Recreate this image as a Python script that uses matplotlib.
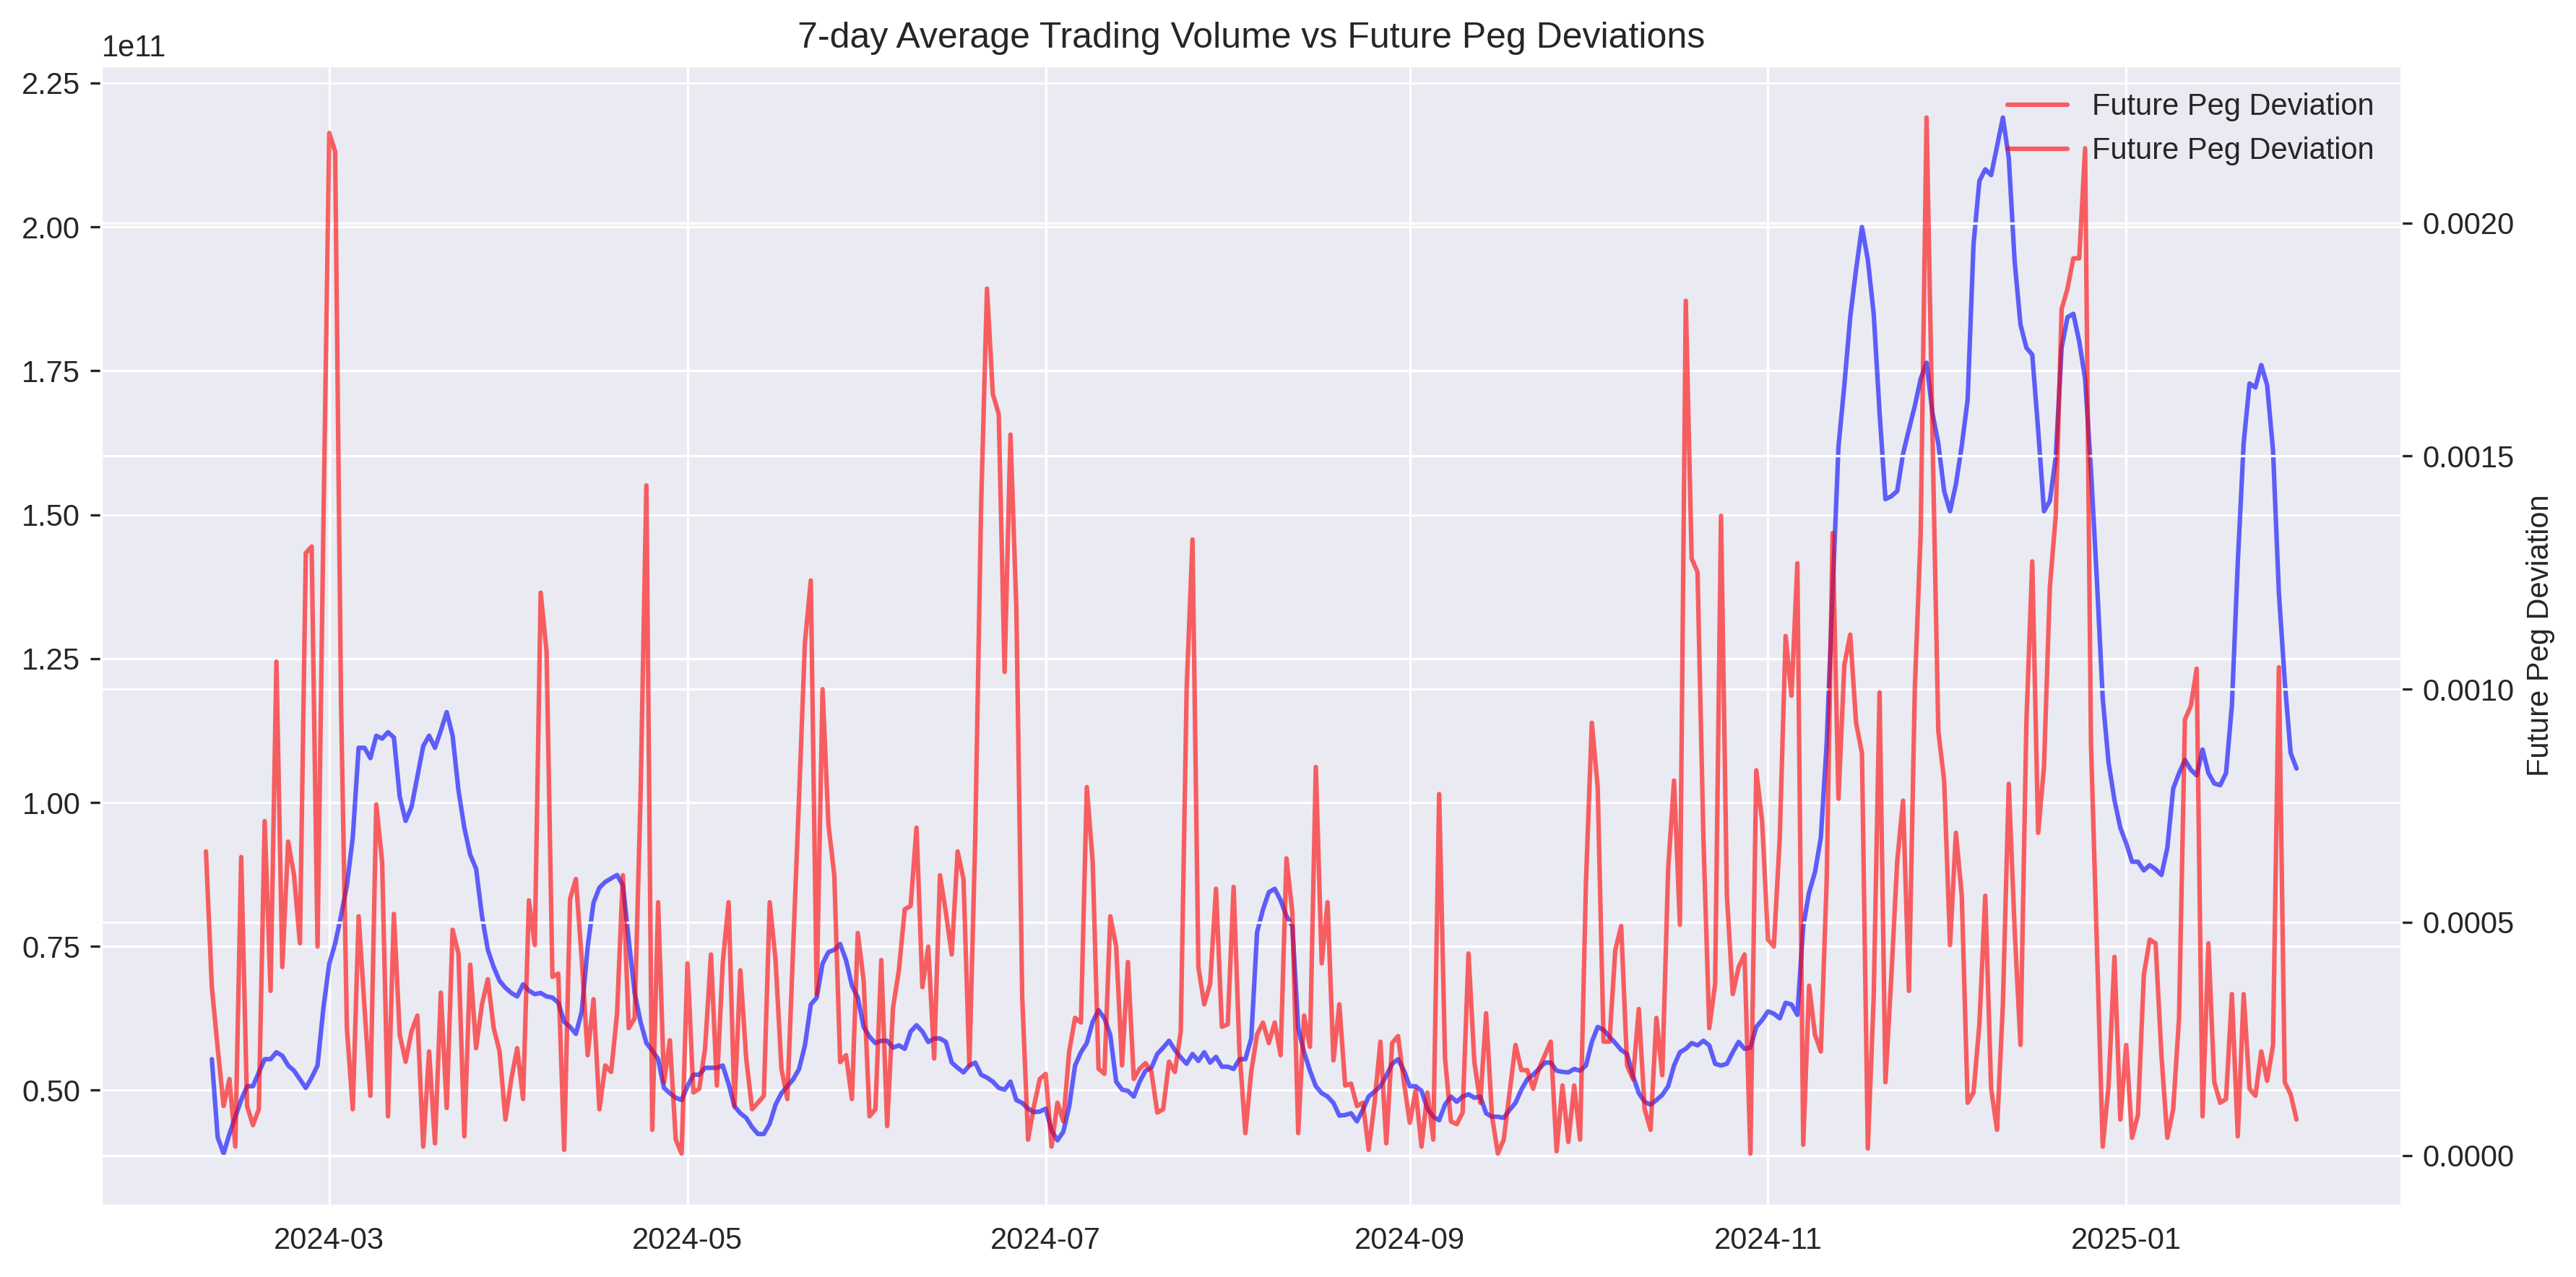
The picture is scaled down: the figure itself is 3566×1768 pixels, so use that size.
import numpy as np
import pandas as pd
import matplotlib
matplotlib.use("Agg")
import matplotlib.pyplot as plt
import seaborn as sns

# daily dates, 2024-02-09 .. 2025-01-30
dates = pd.date_range("2024-02-09", "2025-01-30", freq="D")

# 7-day average trading volume, in billions (first day has no average yet)
vol_7d_bn = [
    np.nan, 55.4, 41.8, 39.0, 42.4, 45.4, 48.3, 50.7, 50.7, 53.1,
    55.4, 55.4, 56.6, 56.0, 54.3, 53.4, 51.9, 50.4, 52.2, 54.3,
    64.3, 72.0, 75.5, 80.3, 85.6, 93.9, 109.5, 109.5, 107.7, 111.6,
    111.1, 112.2, 111.3, 101.0, 96.8, 99.2, 104.5, 109.8, 111.6, 109.5,
    112.5, 115.7, 111.6, 102.1, 95.6, 90.9, 88.5, 80.3, 74.4, 71.4,
    69.0, 67.8, 66.9, 66.3, 68.4, 67.3, 66.7, 66.9, 66.3, 66.1,
    65.2, 61.9, 61.0, 59.8, 63.7, 74.9, 82.6, 85.2, 86.2, 86.8,
    87.4, 85.6, 76.1, 66.9, 61.9, 58.2, 56.9, 55.4, 50.4, 49.5,
    48.7, 48.3, 50.7, 52.7, 52.7, 53.9, 53.9, 53.9, 54.3, 51.1,
    47.2, 46.0, 45.2, 43.6, 42.4, 42.4, 44.2, 47.5, 49.5, 50.7,
    51.9, 53.7, 57.8, 64.9, 66.1, 72.0, 74.0, 74.4, 75.4, 72.6,
    68.2, 66.1, 61.0, 59.3, 58.2, 58.6, 58.6, 57.4, 57.8, 57.2,
    60.2, 61.3, 60.2, 58.4, 59.0, 59.0, 58.4, 54.8, 53.9, 53.1,
    54.3, 54.8, 52.7, 52.2, 51.5, 50.4, 50.1, 51.5, 48.3, 47.8,
    46.8, 46.2, 46.3, 46.8, 43.0, 41.3, 42.8, 47.2, 54.3, 56.6,
    58.2, 61.9, 63.9, 62.5, 59.6, 51.5, 50.1, 49.9, 48.9, 51.5,
    53.4, 53.9, 56.3, 57.4, 58.6, 57.0, 55.7, 54.6, 56.3, 55.1,
    56.6, 54.8, 55.8, 54.1, 54.1, 53.7, 55.4, 55.4, 59.0, 77.5,
    81.4, 84.4, 85.0, 83.0, 80.3, 78.5, 60.8, 56.6, 53.4, 50.7,
    49.5, 48.9, 47.8, 45.6, 45.7, 46.0, 44.6, 46.6, 48.9, 49.8,
    50.7, 52.5, 54.6, 55.4, 53.4, 50.7, 50.7, 49.9, 46.8, 45.4,
    44.8, 47.5, 48.9, 48.0, 48.9, 49.3, 48.7, 48.9, 46.0, 45.4,
    45.4, 45.2, 46.6, 47.8, 50.1, 51.9, 52.7, 53.7, 54.8, 54.8,
    53.4, 53.2, 53.1, 53.7, 53.4, 54.3, 58.4, 61.0, 60.5, 59.3,
    58.2, 57.0, 56.3, 52.5, 49.5, 48.0, 47.5, 48.3, 49.2, 50.7,
    54.3, 56.6, 57.2, 58.2, 57.8, 58.6, 57.8, 54.6, 54.3, 54.6,
    56.6, 58.4, 57.2, 57.4, 61.0, 62.2, 63.7, 63.3, 62.5, 65.2,
    64.9, 63.1, 78.5, 84.4, 87.9, 93.9, 110.4, 136.4, 161.8, 172.5,
    184.3, 192.6, 200.0, 194.3, 184.9, 167.7, 152.7, 153.2, 154.1, 160.6,
    164.8, 168.9, 173.6, 176.4, 167.7, 162.4, 154.1, 150.6, 155.3, 162.0,
    170.0, 197.0, 208.0, 210.0, 209.0, 214.0, 219.0, 212.0, 194.0, 183.0,
    179.0, 177.8, 164.8, 150.6, 152.4, 160.0, 179.0, 184.3, 184.9, 180.1,
    173.6, 157.7, 138.8, 118.1, 106.9, 100.4, 95.6, 92.9, 89.7, 89.7,
    88.2, 89.1, 88.4, 87.4, 92.1, 102.4, 105.1, 107.4, 105.7, 104.7,
    109.2, 105.1, 103.3, 103.0, 105.1, 116.9, 141.7, 162.4, 172.8, 172.1,
    176.0, 172.5, 161.2, 136.4, 121.0, 108.6, 105.9,
]

# future peg deviation, in units of 1e-4
peg_dev_e4 = [
    6.52, 3.61, 2.30, 1.06, 1.64, 0.19, 6.40, 1.06, 0.65, 0.99,
    7.17, 3.53, 10.59, 4.04, 6.73, 6.01, 4.55, 12.92, 13.06, 4.48,
    13.50, 21.93, 21.53, 9.72, 2.73, 0.99, 5.13, 3.17, 1.28, 7.53,
    6.30, 0.84, 5.18, 2.59, 2.01, 2.66, 3.00, 0.19, 2.23, 0.26,
    3.49, 1.02, 4.84, 4.33, 0.41, 4.09, 2.30, 3.24, 3.78, 2.73,
    2.23, 0.77, 1.64, 2.30, 1.21, 5.47, 4.51, 12.07, 10.81, 3.83,
    3.90, 0.12, 5.50, 5.93, 4.19, 2.15, 3.35, 0.99, 1.93, 1.79,
    3.03, 6.01, 2.73, 2.94, 7.68, 14.37, 0.55, 5.43, 1.57, 2.47,
    0.34, 0.04, 4.12, 1.35, 1.43, 2.30, 4.31, 1.50, 4.12, 5.43,
    1.06, 3.97, 2.08, 0.99, 1.13, 1.28, 5.43, 4.19, 1.86, 1.21,
    4.48, 7.68, 11.00, 12.33, 3.46, 10.00, 7.10, 6.01, 2.00, 2.15,
    1.21, 4.77, 3.75, 0.84, 0.99, 4.19, 0.63, 3.17, 3.97, 5.28,
    5.35, 7.03, 3.61, 4.48, 2.08, 6.01, 5.21, 4.31, 6.52, 5.93,
    1.93, 6.81, 13.93, 18.59, 16.33, 15.90, 10.37, 15.46, 11.75, 3.39,
    0.34, 1.06, 1.64, 1.75, 0.19, 1.13, 0.73, 2.23, 2.95, 2.85,
    7.90, 6.30, 1.86, 1.75, 5.13, 4.48, 1.93, 4.15, 1.64, 1.86,
    1.98, 1.79, 0.92, 0.99, 2.01, 1.79, 2.66, 10.00, 13.21, 4.04,
    3.24, 3.68, 5.72, 2.76, 2.81, 5.76, 2.23, 0.48, 1.79, 2.60,
    2.85, 2.41, 2.85, 2.15, 6.37, 5.21, 0.48, 3.00, 2.33, 8.33,
    4.12, 5.43, 2.04, 3.24, 1.50, 1.54, 1.06, 1.13, 0.12, 1.13,
    2.44, 0.26, 2.41, 2.56, 1.57, 0.70, 1.40, 0.19, 1.35, 0.34,
    7.75, 2.08, 0.73, 0.67, 0.92, 4.33, 2.00, 1.13, 3.05, 0.84,
    0.04, 0.34, 1.35, 2.37, 1.83, 1.83, 1.43, 1.86, 2.15, 2.44,
    0.09, 1.50, 0.29, 1.50, 0.34, 5.86, 9.28, 7.90, 2.44, 2.44,
    4.41, 4.92, 1.93, 1.64, 3.14, 0.99, 0.55, 2.95, 1.72, 6.15,
    8.04, 4.95, 18.33, 12.80, 12.51, 6.81, 2.73, 3.68, 13.72, 5.57,
    3.46, 4.04, 4.31, 0.04, 8.26, 7.17, 4.63, 4.48, 6.81, 11.14,
    9.86, 12.70, 0.23, 3.64, 2.59, 2.23, 5.93, 13.35, 7.65, 10.52,
    11.17, 9.28, 8.63, 0.15, 3.39, 9.93, 1.57, 3.83, 6.30, 7.61,
    3.53, 10.00, 13.35, 22.26, 15.53, 9.11, 8.04, 4.51, 6.92, 5.57,
    1.13, 1.35, 2.81, 5.57, 1.43, 0.55, 3.24, 7.97, 4.84, 2.37,
    9.28, 12.74, 6.92, 8.33, 12.19, 13.72, 18.15, 18.59, 19.24, 19.24,
    21.60, 8.84, 4.55, 0.19, 1.50, 4.26, 0.77, 2.37, 0.38, 0.87,
    3.87, 4.63, 4.55, 2.15, 0.38, 0.99, 2.95, 9.35, 9.64, 10.44,
    0.84, 4.55, 1.57, 1.13, 1.21, 3.46, 0.41, 3.46, 1.43, 1.28,
    2.23, 1.60, 2.37, 10.47, 1.57, 1.31, 0.77,
]

volume = np.array(vol_7d_bn) * 1e9
peg_dev = np.array(peg_dev_e4) * 1e-4

sns.set_style("darkgrid")
plt.rcParams["font.family"] = ["Liberation Sans", "DejaVu Sans"]

fig, ax1 = plt.subplots(figsize=(12, 6))
ax2 = ax1.twinx()

ax1.plot(dates, volume, color="blue", alpha=0.6, linewidth=1.5, label="7-day Avg Volume")
line2, = ax2.plot(dates, peg_dev, color="red", alpha=0.6, linewidth=1.5, label="Future Peg Deviation")

ax2.set_ylabel("Future Peg Deviation")
ax1.set_title("7-day Average Trading Volume vs Future Peg Deviations")

# legend shows the peg line twice, as in the original
ax2.legend([line2, line2], ["Future Peg Deviation", "Future Peg Deviation"],
           loc="upper right", frameon=False)

plt.tight_layout()
plt.savefig("out.png", dpi=300, bbox_inches="tight")
